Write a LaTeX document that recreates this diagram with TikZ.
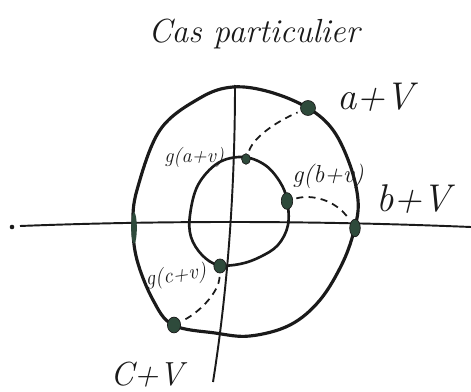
\documentclass[tikz,border=0pt]{standalone}
\usepackage{fontspec}
\usepackage{tikz}
\usepackage{xcolor}
\usetikzlibrary{shapes.geometric}
\definecolor{inkblack}{HTML}{1A1A1A}
\definecolor{dotgreen}{HTML}{2E4A3B}

\tikzset{
  dot/.style={ellipse,fill=dotgreen,draw=inkblack,line width=0.4pt,inner sep=0pt},
  dashline/.style={inkblack,line width=1pt,dash pattern=on 4pt off 3pt,shorten <=2pt,shorten >=2pt},
  hand/.style={inkblack,inner sep=0pt}
}

\begin{document}
\begin{tikzpicture}[x=0.02cm,y=-0.02cm]
  \useasboundingbox (0,0) rectangle (471,392);

  \node[hand,anchor=base west,font=\fontsize{19}{22}\selectfont\itshape] (title) at (148,43) {Cas particulier};

  \fill[inkblack] (12,227) circle (1.3pt);
  \draw[inkblack,line width=1.1pt] (20,226) .. controls (150,221) and (300,220) .. (471,227);
  \draw[inkblack,line width=1.1pt] (235,85) .. controls (235,200) and (226,300) .. (213,382);


  \draw[inkblack,line width=1.8pt] plot[smooth cycle,tension=0.6] coordinates {
    (233,87) (270,92) (308,108) (333,130) (350,165) (358,200) (355,227)
    (343,262) (320,300) (290,325) (250,336) (215,333) (173,325) (153,300)
    (137,260) (133,225) (137,190) (160,130) (200,98)};
  \fill[dotgreen] (134,228) ellipse (1.6pt and 9pt);

  \draw[inkblack,line width=1.5pt] plot[smooth cycle,tension=0.6] coordinates {
    (243,157) (265,165) (280,182) (287,200) (288,225) (278,245) (260,257)
    (240,264) (218,265) (202,255) (191,237) (190,215) (198,185) (218,163)};


  \node[dot,minimum width=8.5pt,minimum height=8.5pt] (av) at (308,108) {};
  \node[dot,minimum width=6pt,minimum height=10pt] (bv) at (355,228) {};
  \node[dot,minimum width=7.5pt,minimum height=9pt] (cv) at (174,325) {};
  \node[dot,minimum width=5pt,minimum height=6pt] (gav) at (246,159) {};
  \node[dot,minimum width=6.5pt,minimum height=9.5pt] (gbv) at (287,201) {};
  \node[dot,minimum width=7pt,minimum height=8pt] (gcv) at (220,266) {};

  \draw[dashline] (gav) .. controls (255,135) and (280,120) .. (av);
  \draw[dashline] (gbv) .. controls (312,194) and (336,200) .. (bv);
  \draw[dashline] (gcv) .. controls (219,292) and (200,312) .. (cv);


  \node[hand,anchor=base west,font=\fontsize{22}{24}\selectfont\itshape] (avlabel) at (337,110) {a+V};
  \node[hand,anchor=base west,font=\fontsize{22}{24}\selectfont\itshape] (bvlabel) at (376,212) {b+V};
  \node[hand,anchor=base west,font=\fontsize{19}{22}\selectfont\itshape] (cvlabel) at (110,385) {C+V};
  \node[hand,anchor=base west,font=\fontsize{11.5}{14}\selectfont\itshape] (gavlabel) at (164,162) {g(a+v)};
  \node[hand,anchor=base west,font=\fontsize{14}{17}\selectfont\itshape] (gbvlabel) at (292,182) {g(b+v)};
  \node[hand,anchor=base west,rotate=8,font=\fontsize{12}{14}\selectfont\itshape] (gcvlabel) at (146,286) {g(c+v)};
\end{tikzpicture}
\end{document}
